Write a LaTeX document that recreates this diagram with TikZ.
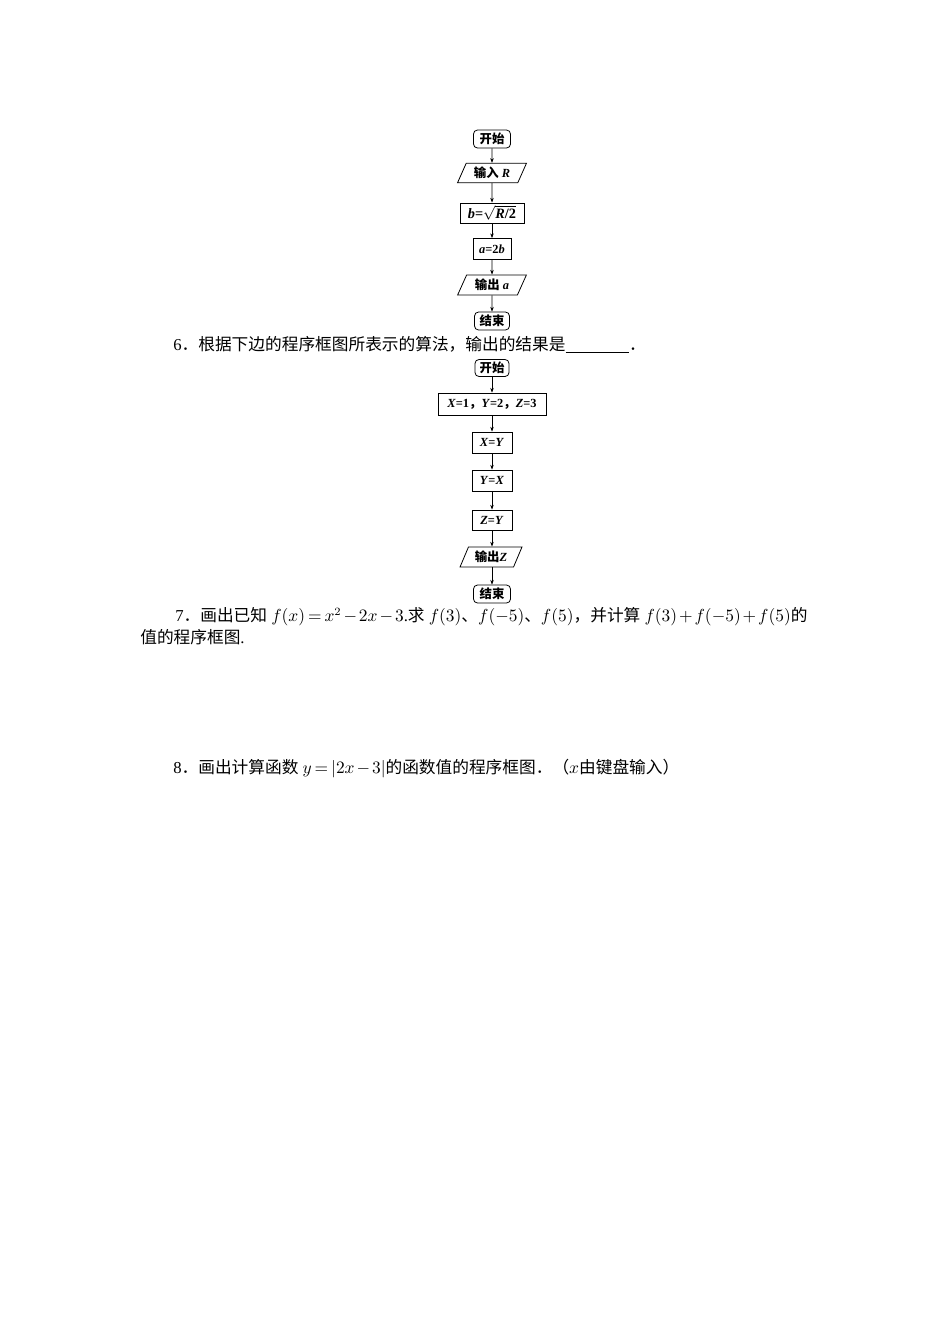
\documentclass[tikz,border=0pt]{standalone}
\usepackage{fontspec}
\setmainfont{Liberation Serif}
\newfontfamily\cjk{Noto Sans CJK SC}
\usetikzlibrary{shapes.geometric,arrows.meta}
\newcommand{\zh}[1]{{\cjk #1}}
\newcommand{\bi}[1]{\textbf{\textit{#1}}}
\newcommand{\tightmath}{\medmuskip=2mu\relax\thickmuskip=3mu\relax}
\tikzset{
    every node/.style={inner sep=0pt, font=\fontsize{7.8}{9}\selectfont\bfseries}
}
\tikzset{
    term/.style={draw, rounded corners=2.5pt, line width=.5pt},
    proc/.style={draw, rectangle, line width=.5pt},
    io/.style={draw, trapezium, trapezium left angle=63, trapezium right angle=117,
        trapezium stretches=true, line width=.5pt},
    flow/.style={-{Stealth[length=3pt,width=2.2pt]}, line width=.4pt},
    txt/.style={anchor=west, font=\fontsize{10.5}{13}\selectfont\tightmath}
}

\begin{document}
\begin{tikzpicture}[x=0.02211cm, y=-0.02211cm]
        \useasboundingbox (0,0) rectangle (950,1344);
        % first chart
        \node (u0) [term, minimum width=23.3pt, minimum height=11.3pt] at (492, 139) {\zh{开始}};
        \node (u1) [io, minimum width=43.4pt, minimum height=12.2pt] at (492, 173) {\zh{输入} \bi{R}};
        \node (u2) [proc, minimum width=40.2pt, minimum height=12.6pt, font=\fontsize{9}{10}\selectfont\bfseries] at (492, 213) {\bi{b}=$\sqrt{\bi{R}\textbf{/2}}$};
        \node (u3) [proc, minimum width=23.9pt, minimum height=13.2pt] at (492, 249) {\bi{a}=2\bi{b}};
        \node (u4) [io, minimum width=43.4pt, minimum height=12.6pt] at (492, 285) {\zh{输出} \bi{a}};
        \node (u5) [term, minimum width=22pt, minimum height=11.3pt] at (492, 321) {\zh{结束}};
        \draw [flow] (u0) -- (u1);
        \draw [flow] (u1) -- (u2);
        \draw [flow] (u2) -- (u3);
        \draw [flow] (u3) -- (u4);
        \draw [flow] (u4) -- (u5);
        % question 6
        \node (t6) [txt] at (173, 345) {6\zh{．根据下边的程序框图所表示的算法，输出的结果是}\underline{\hspace{40pt}}\zh{．}};
        % second chart
        \node (w0) [term, minimum width=21.4pt, minimum height=10.7pt] at (492, 368) {\zh{开始}};
        \node (w1) [proc, minimum width=67.9pt, minimum height=13.8pt] at (492, 404) {\bi{X}=1\zh{，}\bi{Y}=2\zh{，}\bi{Z}=3};
        \node (w2) [proc, minimum width=25.2pt, minimum height=13.2pt] at (492, 442.5) {\bi{X}=\bi{Y}};
        \node (w3) [proc, minimum width=25.2pt, minimum height=13.2pt] at (492, 480.5) {\bi{Y}=\bi{X}};
        \node (w4) [proc, minimum width=25.2pt, minimum height=12.6pt] at (492, 520) {\bi{Z}=\bi{Y}};
        \node (w5) [io, minimum width=39pt, minimum height=12.6pt] at (491, 557) {\zh{输出}\bi{Z}};
        \node (w6) [term, minimum width=23.3pt, minimum height=11.3pt] at (492, 594) {\zh{结束}};
        \draw [flow] (w0) -- (w1);
        \draw [flow] (w1) -- (w2);
        \draw [flow] (w2) -- (w3);
        \draw [flow] (w3) -- (w4);
        \draw [flow] (w4) -- (w5.north -| w4);
        \draw [flow] (w5.south -| w6) -- (w6);
        % questions 7 and 8
        \node (t7) [txt] at (175, 617) {7\zh{．画出已知} $f(x)=x^2-2x-3$.\zh{求} $f(3)$\zh{、}$f(-5)$\zh{、}$f(5)$\zh{，并计算} $f(3)+f(-5)+f(5)$\zh{的}};
        \node (t7b) [txt] at (140, 637) {\zh{值的程序框图}.};
        \node (t8) [txt] at (173, 769) {8\zh{．画出计算函数} $y=|2x-3|$\zh{的函数值的程序框图．（}$x$\zh{由键盘输入）}};
\end{tikzpicture}
\end{document}
